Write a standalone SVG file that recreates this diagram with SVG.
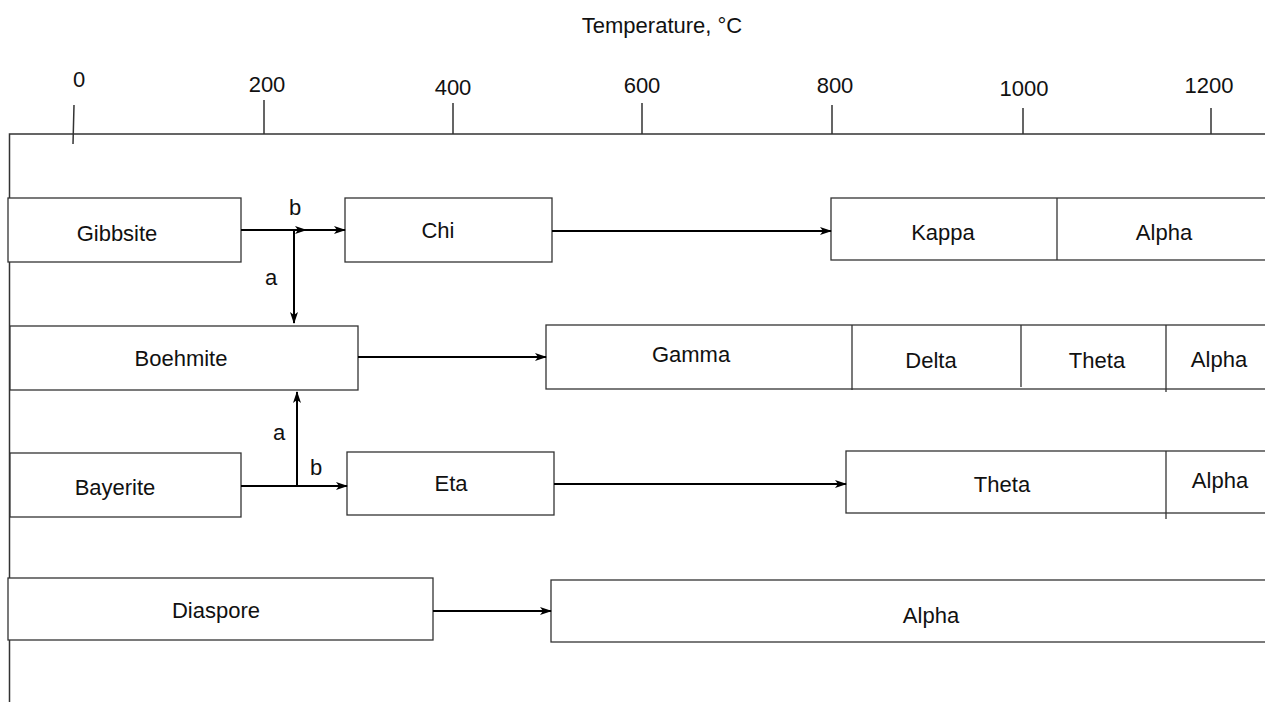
<svg xmlns="http://www.w3.org/2000/svg" width="1265" height="702" viewBox="0 0 1265 702">
<style>
text{font-family:"Liberation Sans",Arial,sans-serif;font-size:22px;fill:#111;text-anchor:middle}
.box{fill:#fff;stroke:#333;stroke-width:1.3}
.div{stroke:#333;stroke-width:1.3;fill:none}
.axis{stroke:#333;stroke-width:1.5;fill:none}
.arr{stroke:#000;stroke-width:2;fill:none}
</style>
<defs>
<marker id="ah" markerWidth="12" markerHeight="8" refX="11" refY="4" orient="auto" markerUnits="userSpaceOnUse">
<path d="M0,0 L12,4 L0,8 L3,4 Z" fill="#000"/>
</marker>
</defs>
<rect width="1265" height="702" fill="#fff"/>
<g id="axis">
<text x="662" y="33">Temperature, °C</text>
<path class="axis" d="M9.5,702 V134 H1265"/>
<path class="axis" d="M74,105 L73,144 M264,100 V134 M453,103 V134 M642,103 V134 M832,105 V134 M1023,108 V134 M1211,108 V134"/>
<text x="79" y="87">0</text>
<text x="267" y="92">200</text>
<text x="453" y="95">400</text>
<text x="642" y="93">600</text>
<text x="835" y="93">800</text>
<text x="1024" y="96">1000</text>
<text x="1209" y="93">1200</text>
</g>
<g id="gibbsite"><rect class="box" x="8" y="198" width="233" height="64"/><text x="117" y="241">Gibbsite</text></g>
<g id="chi"><rect class="box" x="345" y="198" width="207" height="64"/><text x="438" y="238">Chi</text></g>
<g id="kappa-alpha"><rect class="box" x="831" y="198" width="440" height="62"/><path class="div" d="M1057,198 V260"/><text x="943" y="240">Kappa</text><text x="1164" y="240">Alpha</text></g>
<g id="boehmite"><rect class="box" x="10" y="326" width="348" height="64"/><text x="181" y="366">Boehmite</text></g>
<g id="gamma-row"><rect class="box" x="546" y="325" width="725" height="64"/><path class="div" d="M852,325 V390 M1021,325 V387 M1166,325 V392"/><text x="691" y="362">Gamma</text><text x="931" y="368">Delta</text><text x="1097" y="368">Theta</text><text x="1219" y="367">Alpha</text></g>
<g id="bayerite"><rect class="box" x="10" y="453" width="231" height="64"/><text x="115" y="495">Bayerite</text></g>
<g id="eta"><rect class="box" x="347" y="452" width="207" height="63"/><text x="451" y="491">Eta</text></g>
<g id="theta-alpha"><rect class="box" x="846" y="451" width="425" height="62"/><path class="div" d="M1166,451 V519"/><text x="1002" y="492">Theta</text><text x="1220" y="488">Alpha</text></g>
<g id="diaspore"><rect class="box" x="8" y="578" width="425" height="62"/><text x="216" y="618">Diaspore</text></g>
<g id="alpha"><rect class="box" x="551" y="580" width="720" height="62"/><text x="931" y="623">Alpha</text></g>
<g id="connectors">
<path class="arr" d="M241,230 H306 H345" marker-mid="url(#ah)" marker-end="url(#ah)"/>
<path class="arr" d="M294,230 V323" marker-end="url(#ah)"/>
<path class="arr" d="M552,231 H831" marker-end="url(#ah)"/>
<path class="arr" d="M358,357 H546" marker-end="url(#ah)"/>
<path class="arr" d="M241,486 H347" marker-end="url(#ah)"/>
<path class="arr" d="M297,486 V392" marker-end="url(#ah)"/>
<path class="arr" d="M554,484 H846" marker-end="url(#ah)"/>
<path class="arr" d="M433,611 H551" marker-end="url(#ah)"/>
<text x="295" y="215">b</text>
<text x="271" y="285">a</text>
<text x="279" y="440">a</text>
<text x="316" y="475">b</text>
</g>
</svg>
